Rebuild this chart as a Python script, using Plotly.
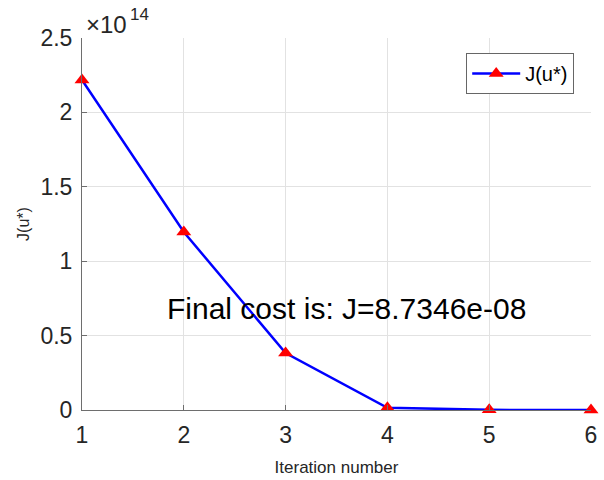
import plotly.graph_objects as go

# Cost per iteration
iterations = [1, 2, 3, 4, 5, 6]
cost = [2.218e14, 1.196e14, 0.383e14, 0.015e14, 0.001e14, 0.0]

y_tick_vals = [0, 0.5e14, 1.0e14, 1.5e14, 2.0e14, 2.5e14]
y_tick_text = ["0", "0.5", "1", "1.5", "2", "2.5"]
x_tick_vals = [1, 2, 3, 4, 5, 6]

final_cost_text = "Final cost is: J=8.7346e-08"

FONT = "Liberation Sans, Arial, sans-serif"
INK = "#262626"

fig = go.Figure()
fig.add_trace(go.Scatter(
    x=iterations, y=cost, mode="lines+markers", name="J(u*)",
    line=dict(color="#0000ff", width=2.5),
    marker=dict(symbol="triangle-up", color="#ff0000", size=13),
    cliponaxis=False,
))

fig.update_layout(
    width=604, height=480,
    margin=dict(l=82, r=13, t=38, b=70, autoexpand=False),
    paper_bgcolor="white", plot_bgcolor="white",
    font=dict(family=FONT, color=INK),
    showlegend=True,
    legend=dict(
        x=0.967, y=0.96, xanchor="right", yanchor="top",
        bgcolor="white", bordercolor="#666666", borderwidth=1,
        font=dict(size=20, color="black", family=FONT),
        itemwidth=48, tracegroupgap=0,
    ),
    xaxis=dict(
        range=[1, 6], tickvals=x_tick_vals, showgrid=True, automargin=False,
        gridcolor="#e2e2e2", gridwidth=1, zeroline=False,
        showline=True, linecolor="#6e6e6e", linewidth=1,
        ticks="inside", ticklen=5, tickcolor="#6e6e6e",
        tickfont=dict(size=23, color=INK), ticklabelstandoff=4,
        title=dict(text="Iteration number", font=dict(size=17, color=INK), standoff=14),
    ),
    yaxis=dict(
        range=[0, 2.5e14], tickvals=y_tick_vals, ticktext=y_tick_text,
        showgrid=True, gridcolor="#e2e2e2", gridwidth=1, zeroline=False,
        showline=True, linecolor="#6e6e6e", linewidth=1, automargin=False,
        ticks="inside", ticklen=5, tickcolor="#6e6e6e",
        tickfont=dict(size=23, color=INK), ticklabelstandoff=4,
        title=dict(text="J(u*)", font=dict(size=16, color=INK), standoff=6),
    ),
    annotations=[
        dict(text="×10", x=0.004, y=1.0, xref="paper", yref="paper",
             showarrow=False, xanchor="left", yanchor="bottom", yshift=-2,
             font=dict(size=24, color=INK, family=FONT)),
        dict(text="14", x=0.004, y=1.0, xref="paper", yref="paper",
             showarrow=False, xanchor="left", yanchor="bottom",
             xshift=44, yshift=12,
             font=dict(size=17, color=INK, family=FONT)),
        dict(text=final_cost_text, x=3.6, y=0.68e14, xref="x", yref="y",
             showarrow=False, xanchor="center", yanchor="middle",
             font=dict(size=30, color="black", family=FONT)),
    ],
)

fig.write_html("out.html")
